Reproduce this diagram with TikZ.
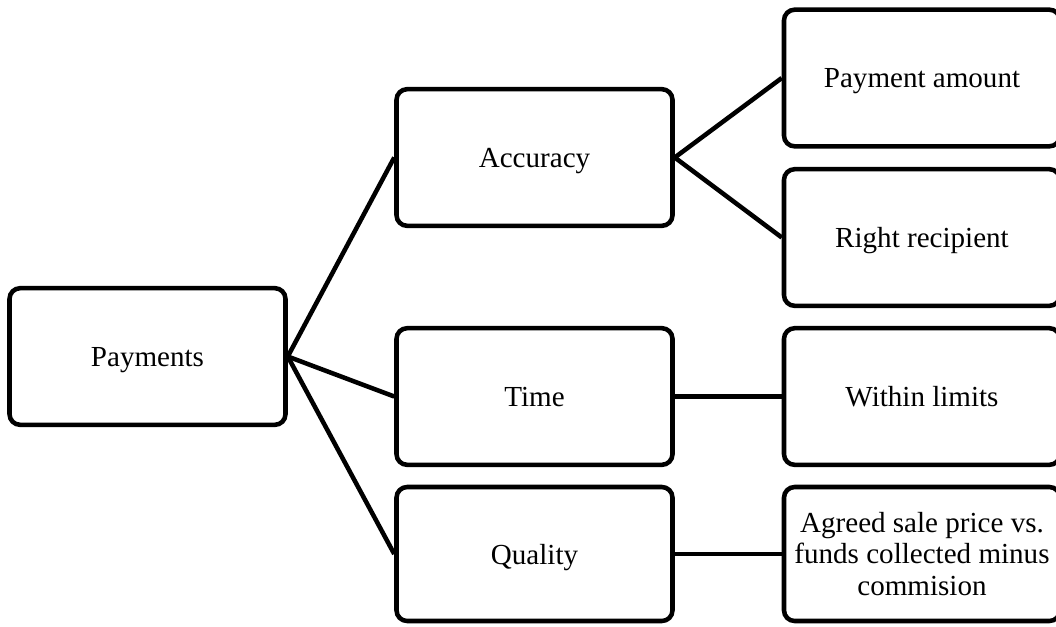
\documentclass[tikz,border=0pt]{standalone}
\usepackage{fontspec}
\setmainfont{Liberation Serif}
\begin{document}
\begin{tikzpicture}[x=0.75pt,y=-0.75pt,
  card/.style={draw=black, line width=3.4pt, rounded corners=8pt, fill=white,
    minimum width=207pt, minimum height=102.5pt, inner sep=0pt, align=center,
    font=\fontsize{21.8}{23.4}\selectfont},
  oneline/.style={card, text depth=0pt},
  link/.style={line width=3.4pt}]
  \useasboundingbox (0,0) rectangle (1056,626);
  \clip (0,0) rectangle (1056,626);

  % root
  \node[oneline] (pay) at (147.5,356.5) {Payments};

  % criteria
  \node[oneline] (acc) at (534.5,157.5) {Accuracy};
  \node[oneline] (time) at (534.5,396.5) {Time};
  \node[oneline, minimum height=100.5pt] (qual) at (534.5,554) {Quality};

  % measures
  \node[oneline] (amt) at (922,78) {Payment amount};
  \node[oneline] (rec) at (922,237.5) {Right recipient};
  \node[oneline] (lim) at (922,396.5) {Within limits};
  \node[card, minimum height=100.5pt] (agr) at (922,554) {Agreed sale price vs.\\funds collected minus\\commision};

  % connectors
  \draw[link] (pay.east) -- (acc.west);
  \draw[link] (pay.east) -- (time.west);
  \draw[link] (pay.east) -- (qual.west);
  \draw[link] (acc.east) -- (amt.west);
  \draw[link] (acc.east) -- (rec.west);
  \draw[link] (time.east) -- (lim.west);
  \draw[link] (qual.east) -- (agr.west);
\end{tikzpicture}
\end{document}
